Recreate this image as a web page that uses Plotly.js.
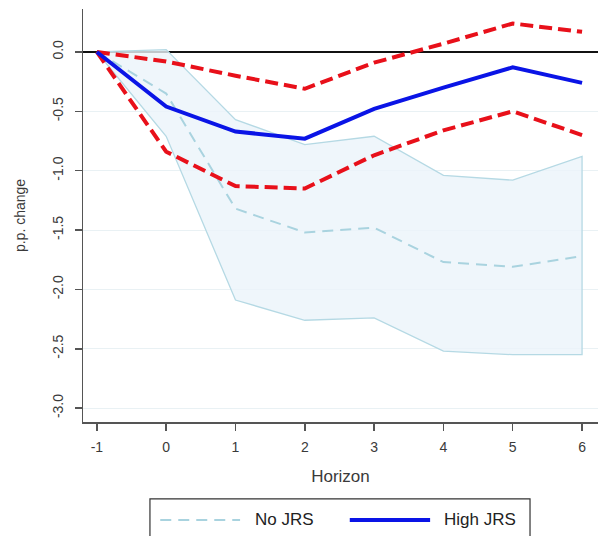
<!DOCTYPE html>
<html>
<head>
<meta charset="utf-8">
<script src="https://cdn.plot.ly/plotly-3.0.1.min.js"></script>
<style>html,body{margin:0;padding:0;background:#fff;}#chart{width:598px;height:536px;}</style>
</head>
<body>
<div id="chart"></div>
<script>
const horizon = [-1, 0, 1, 2, 3, 4, 5, 6];
const highJRS = [0, -0.46, -0.67, -0.73, -0.48, -0.30, -0.13, -0.26];
const highUpper = [0, -0.08, -0.20, -0.31, -0.09, 0.07, 0.24, 0.17];
const highLower = [0, -0.84, -1.13, -1.15, -0.87, -0.66, -0.50, -0.70];
const noJRS = [0, -0.35, -1.32, -1.52, -1.48, -1.77, -1.81, -1.72];
const noUpper = [0, 0.02, -0.57, -0.78, -0.71, -1.04, -1.08, -0.88];
const noLower = [0, -0.71, -2.09, -2.26, -2.24, -2.52, -2.55, -2.55];
const yTickVals = [0, -0.5, -1, -1.5, -2, -2.5, -3];
const yTickText = ["0.0", "-0.5", "-1.0", "-1.5", "-2.0", "-2.5", "-3.0"];
const xTickText = ["-1", "0", "1", "2", "3", "4", "5", "6"];
const legendLabels = ["No JRS", "High JRS"];

const colNo = '#a9d3df';
const colHigh = '#0a14e6';
const colRed = '#e8101a';

const bandX = horizon.concat(horizon.slice().reverse());
const bandY = noUpper.concat(noLower.slice().reverse());

const traces = [
  {x: bandX, y: bandY, type: 'scatter', mode: 'lines', fill: 'toself',
   fillcolor: 'rgba(235,244,250,0.8)', line: {color: '#b5d9e4', width: 1.3},
   showlegend: false, hoverinfo: 'skip'},
  {x: horizon, y: noJRS, type: 'scatter', mode: 'lines', name: legendLabels[0], showlegend: false,
   line: {color: colNo, width: 2, dash: '11px,7px'}},
  {x: horizon, y: highUpper, type: 'scatter', mode: 'lines', showlegend: false,
   line: {color: colRed, width: 4, dash: '13px,6px'}},
  {x: horizon, y: highLower, type: 'scatter', mode: 'lines', showlegend: false,
   line: {color: colRed, width: 4, dash: '13px,6px'}},
  {x: horizon, y: highJRS, type: 'scatter', mode: 'lines', name: legendLabels[1], showlegend: false,
   line: {color: colHigh, width: 4}}
];

const ff = 'Liberation Sans, Arial, sans-serif';
const font = {family: ff, size: 14, color: '#3a3a3a'};

const layout = {
  width: 598, height: 536,
  margin: {l: 83, r: 0, t: 9, b: 114},
  paper_bgcolor: '#fff', plot_bgcolor: '#fff',
  font: font,
  showlegend: false,
  xaxis: {range: [-1.2, 6.23], tickvals: horizon, ticktext: xTickText,
          showgrid: false, zeroline: false, showline: true, linecolor: '#555', linewidth: 1.5,
          ticks: 'outside', ticklen: 7, tickcolor: '#555', tickwidth: 1.5, ticklabelstandoff: 5,
          title: {text: 'Horizon', font: {family: ff, size: 17, color: '#3a3a3a'}, standoff: 16}},
  yaxis: {range: [-3.117, 0.362], tickvals: yTickVals, ticktext: yTickText, tickangle: -90,
          showgrid: true, gridcolor: '#e9f1f4', gridwidth: 1,
          zeroline: true, zerolinecolor: '#111', zerolinewidth: 1.5,
          showline: true, linecolor: '#555', linewidth: 1.5,
          ticks: 'outside', ticklen: 7, tickcolor: '#555', tickwidth: 1.5, ticklabelstandoff: 6,
          title: {text: 'p.p. change', font: {family: ff, size: 14, color: '#3a3a3a'}, standoff: 21}},
  shapes: [
    {type: 'rect', xref: 'paper', yref: 'paper', x0: 0.130, x1: 0.868, y0: -0.30, y1: -0.186,
     line: {color: '#333', width: 1.2}, fillcolor: 'rgba(0,0,0,0)'},
    {type: 'line', xref: 'paper', yref: 'paper', x0: 0.150, x1: 0.305, y0: -0.237, y1: -0.237,
     line: {color: colNo, width: 2, dash: '11px,7px'}},
    {type: 'line', xref: 'paper', yref: 'paper', x0: 0.518, x1: 0.674, y0: -0.237, y1: -0.237,
     line: {color: colHigh, width: 4}}
  ],
  annotations: [
    {xref: 'paper', yref: 'paper', x: 0.330, y: -0.237, xanchor: 'left', yanchor: 'middle',
     text: legendLabels[0], showarrow: false, font: {family: ff, size: 17, color: '#222'}},
    {xref: 'paper', yref: 'paper', x: 0.697, y: -0.237, xanchor: 'left', yanchor: 'middle',
     text: legendLabels[1], showarrow: false, font: {family: ff, size: 17, color: '#222'}}
  ]
};

Plotly.newPlot('chart', traces, layout, {displayModeBar: false, staticPlot: true});
</script>
</body>
</html>
